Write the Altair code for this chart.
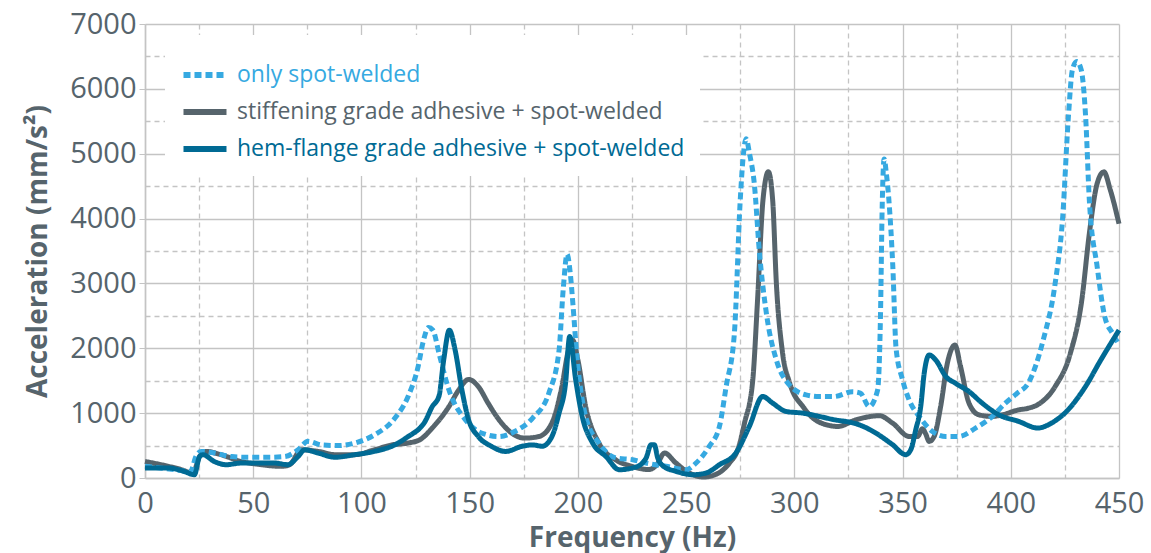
import altair as alt
import pandas as pd

series_names = [
    "only spot-welded",
    "stiffening grade adhesive + spot-welded",
    "hem-flange grade adhesive + spot-welded",
]
series_colors = ["#36a9e1", "#56646c", "#006a94"]
series_dash = [[7, 4], [1, 0], [1, 0]]

spot_hz = [0, 7, 14, 21, 23.5, 26, 32, 40, 47.5, 57,
           64.5, 70.7, 75.3, 81.5, 89, 97, 106, 115.4, 121.6, 126.2,
           128.5, 131, 133, 136, 140.4, 148, 155.8, 163.5, 171, 179,
           186.6, 191.3, 193.2, 195, 196.5, 197.8, 199.3, 203.6, 209.7, 217.5,
           225.3, 231.5, 240.7, 250, 254.6, 260.7, 265.4, 268.5, 272.3, 275,
           276.5, 277.7, 279.3, 281.5, 283.8, 287.3, 291.7, 297.7, 305.4, 311.6,
           318.2, 327, 330.5, 334.6, 338.5, 339.8, 340.6, 341.5, 342.5, 343.7,
           345.5, 347, 350, 353, 357.7, 363.8, 370, 376, 383.7, 391.4,
           397.5, 403, 408, 415, 420.5, 424, 426.6, 428.5, 430.5, 432.5,
           434.6, 436.3, 439.9, 443.4, 447, 449.6]
spot_acc = [180, 155, 130, 100, 330, 410, 385, 330, 320, 320,
            330, 435, 565, 510, 500, 540, 665, 920, 1260, 1720,
            2100, 2320, 2280, 1900, 1360, 900, 690, 640, 720, 920,
            1310, 1970, 2900, 3450, 3150, 2640, 1970, 950, 540, 310,
            282, 231, 180, 128, 231, 487, 795, 1410, 2230, 4280,
            5000, 5230, 5000, 4540, 3510, 2490, 1820, 1436, 1282, 1256,
            1256, 1330, 1310, 1103, 1359, 2500, 4200, 4920, 4700, 4280,
            3260, 2000, 1513, 1205, 949, 718, 641, 641, 769, 948,
            1154, 1308, 1460, 2130, 3000, 4030, 5560, 6300, 6420, 6300,
            5560, 4280, 3260, 2490, 2230, 2080]

stiff_hz = [0, 7.4, 16.7, 22, 25.2, 28.2, 35, 44.4, 53.7, 63,
            66.8, 72.2, 80, 87.7, 97, 106, 114, 121.6, 127, 132.7,
            140.4, 145, 149.5, 154, 158.6, 163.5, 169.5, 175.5, 182, 188,
            192.6, 195.5, 197.5, 200, 203.6, 209.7, 217.5, 225, 232.7, 236.5,
            240, 245.3, 251.5, 258, 264, 270, 274, 277, 280.8, 283,
            285.5, 288, 290, 291.7, 294.4, 297.9, 304, 311, 320, 328.7,
            339.3, 345.4, 353, 356.9, 359.2, 360.7, 362.3, 364.6, 367.6, 370.7,
            374.2, 376.8, 380.7, 385.3, 391.4, 396, 403.7, 408, 413.4, 420.5,
            427.5, 432.8, 436.3, 439.9, 443, 446, 450]
stiff_acc = [255, 205, 130, 75, 330, 410, 360, 255, 205, 180,
             205, 435, 410, 360, 360, 435, 510, 540, 590, 770,
             1100, 1360, 1520, 1410, 1150, 900, 690, 615, 640, 850,
             1410, 1950, 2130, 1820, 1100, 540, 280, 180, 130, 205,
             385, 231, 77, 15, 60, 230, 450, 850, 1510, 2740,
             4280, 4720, 4280, 3000, 1970, 1460, 1100, 870, 795, 900,
             960, 846, 641, 640, 760, 680, 564, 641, 1103, 1770,
             2050, 1718, 1154, 974, 948, 974, 1051, 1075, 1150, 1410,
             1920, 2740, 3770, 4540, 4720, 4440, 3920]

hem_hz = [0, 10.5, 18.2, 22.8, 25.2, 26.7, 32, 37.5, 44.4, 52,
          60, 66, 70.7, 73.8, 80, 87.7, 97, 106, 115.4, 121.6,
          127, 129, 132.7, 135.8, 138, 140.6, 143.3, 146.4, 149.5, 154,
          160, 166.6, 174.3, 179, 183.5, 188, 191.3, 194.3, 196.2, 199,
          202, 206.8, 213, 219.1, 226.8, 231.5, 233.8, 235.3, 236.9, 239.2,
          245.3, 253, 259.2, 265.4, 273, 279.2, 285.4, 290, 296.2, 303.9,
          311.6, 318.2, 327, 330, 337.7, 345.4, 351.5, 353.8, 356.1, 358.4,
          360, 362.3, 365.3, 370, 374.5, 380.7, 386.8, 394.5, 403.7, 412.5,
          418.7, 425.7, 434.5, 441.6, 450]
hem_acc = [155, 155, 100, 50, 330, 360, 255, 205, 230, 230,
           230, 205, 330, 435, 385, 320, 360, 410, 510, 640,
           770, 850, 1100, 1260, 1820, 2280, 1970, 1360, 900, 640,
           490, 410, 490, 510, 490, 640, 1000, 1460, 2180, 1510,
           950, 540, 330, 128, 169, 308, 513, 513, 308, 190,
           103, 51, 77, 205, 385, 795, 1256, 1154, 1026, 1000,
           949, 900, 850, 820, 692, 513, 359, 436, 744, 1103,
           1615, 1897, 1820, 1564, 1460, 1333, 1154, 974, 872, 770,
           845, 1025, 1410, 1820, 2280]

x_ticks = list(range(0, 451, 25))
y_ticks = list(range(0, 7001, 500))

frames = []
for name, hz, acc in zip(series_names, [spot_hz, stiff_hz, hem_hz], [spot_acc, stiff_acc, hem_acc]):
    assert len(hz) == len(acc), (name, len(hz), len(acc))
    frames.append(pd.DataFrame({"series": name, "hz": hz, "acc": acc}))
df = pd.concat(frames, ignore_index=True)

FONT = "Open Sans"
TEXT = "#56646c"
GRID = "#c4c4c4"

legend_kw = dict(
    title=None, orient="none", legendX=20, legendY=11,
    fillColor="white", padding=15, labelFont=FONT, labelFontSize=23,
    labelLimit=700, labelOffset=7, symbolType="stroke", symbolSize=1850,
    symbolStrokeWidth=6, rowPadding=0,
    labelColor={"expr": "scale('color', datum.value)"},
)
color = alt.Color("series:N", scale=alt.Scale(domain=series_names, range=series_colors),
                  legend=alt.Legend(**legend_kw))
dash = alt.StrokeDash("series:N", scale=alt.Scale(domain=series_names, range=series_dash),
                      legend=alt.Legend(**legend_kw))
x = alt.X("hz:Q", scale=alt.Scale(domain=[0, 450], nice=False),
          axis=alt.Axis(values=x_ticks, title="Frequency (Hz)",
                        labelExpr="datum.value % 50 === 0 ? datum.label : ''",
                        gridDash={"condition": {"test": "datum.value % 50 !== 0", "value": [5, 4]}, "value": [1, 0]},
                        ticks=False, labelPadding=11, titlePadding=6, labelFlush=False))
y = alt.Y("acc:Q", scale=alt.Scale(domain=[0, 7000], nice=False),
          axis=alt.Axis(values=y_ticks, title="Acceleration (mm/s²)", format="d",
                        labelExpr="datum.value % 1000 === 0 ? datum.label : ''",
                        gridDash={"condition": {"test": "datum.value % 1000 !== 0", "value": [5, 4]}, "value": [1, 0]},
                        tickColor={"condition": {"test": "datum.value % 1000 !== 0", "value": "transparent"}, "value": GRID},
                        tickSize=6, labelPadding=3, titlePadding=17))
base = alt.Chart(df).mark_line(strokeWidth=5, interpolate="monotone", strokeCap="butt").encode(
    x=x, y=y, color=color, strokeDash=dash)
order = [series_names[1], series_names[0], series_names[2]]
layers = [base.transform_filter(alt.datum.series == n) for n in order]
chart = alt.layer(*layers).properties(
    width=974, height=454,
    padding={"left": 145, "top": 24, "right": 32, "bottom": 75},
    autosize=alt.AutoSizeParams(type="none"),
    background="white",
).configure_view(stroke=None).configure_axis(
    labelFont=FONT, labelFontSize=29, labelColor=TEXT,
    titleFont=FONT, titleFontSize=28, titleFontWeight="bold", titleColor=TEXT,
    gridColor=GRID, gridWidth=1.3, domainColor=GRID, domainWidth=1.5,
)

chart.save("out.html", embed_options={"renderer": "svg", "actions": False})
